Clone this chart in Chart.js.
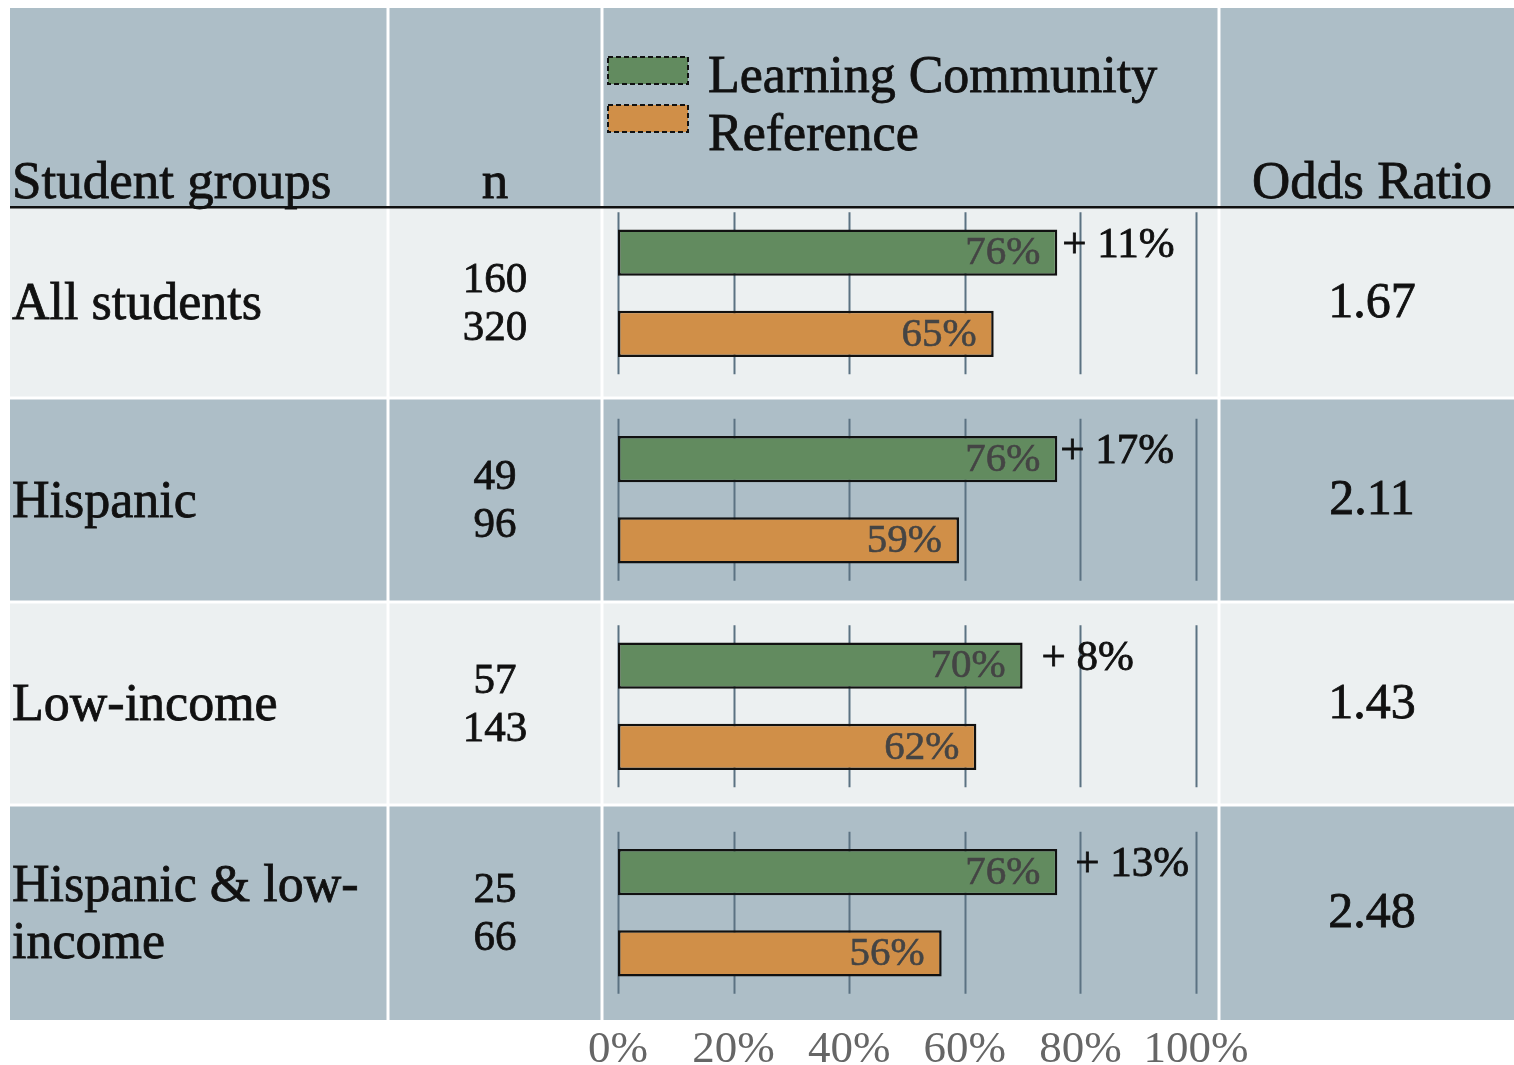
<!DOCTYPE html>
<html>
<head>
<meta charset="utf-8">
<script src="https://cdn.jsdelivr.net/npm/chart.js@4.4.1/dist/chart.umd.min.js"></script>
<style>
  html, body { margin: 0; padding: 0; background: #fff; }
  canvas { display: block; }
</style>
</head>
<body>
<canvas id="chart" width="1514" height="1065"></canvas>
<script>
// data
const groups = ['All students', 'Hispanic', 'Low-income', 'Hispanic & low-income'];
const groupLines = [['All students'], ['Hispanic'], ['Low-income'], ['Hispanic & low-', 'income']];
const lcRate = [76, 76, 70, 76];
const refRate = [65, 59, 62, 56];
const nLC = [160, 49, 57, 25];
const nRef = [320, 96, 143, 66];
const diffLabels = ['+ 11%', '+ 17%', '+ 8%', '+ 13%'];
const oddsRatio = ['1.67', '2.11', '1.43', '2.48'];
const xTicks = [0, 20, 40, 60, 80, 100];

// layout
const FONT = "'Liberation Serif', 'Times New Roman', serif";
const colX = [10, 388, 602, 1219, 1514];
const rowY = [8, 207, 398, 602, 805, 1020];
const diffShift = [5, 3, 19, 18];
const BG_DARK = '#adbec7';
const BG_LIGHT = '#ecf0f1';
const GREEN = '#628b5f';
const ORANGE = '#d08f48';

// fill + thin stroke so the serif looks a bit heavier
function text(ctx, str, x, y, weight = 0.8) {
    ctx.fillText(str, x, y);
    ctx.lineWidth = weight;
    ctx.strokeStyle = ctx.fillStyle;
    ctx.strokeText(str, x, y);
}

const tablePlugin = {
    id: 'table',
    beforeDraw(chart) {
        const { ctx } = chart;
        ctx.save();
        ctx.fillStyle = '#fff';
        ctx.fillRect(0, 0, chart.width, chart.height);

        // cells
        for (let r = 0; r < rowY.length - 1; r++) {
            ctx.fillStyle = (r % 2 === 0) ? BG_DARK : BG_LIGHT;
            for (let c = 0; c < colX.length - 1; c++) {
                const x0 = colX[c] + (c > 0 ? 1.5 : 0);
                const x1 = colX[c + 1] - (c < colX.length - 2 ? 1.5 : 0);
                const y0 = rowY[r] + (r > 1 ? 1.5 : 0);
                const y1 = rowY[r + 1] - (r > 0 && r < rowY.length - 2 ? 1.5 : 0);
                ctx.fillRect(x0, y0, x1 - x0, y1 - y0);
            }
        }

        // header rule
        ctx.fillStyle = '#111';
        ctx.fillRect(colX[0], rowY[1] - 1, colX[4] - colX[0], 2.5);

        // header text
        ctx.fillStyle = '#111';
        ctx.textBaseline = 'alphabetic';
        ctx.font = `53px ${FONT}`;
        ctx.textAlign = 'left';
        text(ctx, 'Student groups', 12, 198);
        ctx.textAlign = 'center';
        text(ctx, 'n', 495, 198);
        text(ctx, 'Odds Ratio', 1372, 198);

        // legend from the datasets
        chart.data.datasets.forEach((ds, i) => {
            const y = 57 + i * 48;
            ctx.fillStyle = ds.backgroundColor;
            ctx.fillRect(608, y, 80, 27);
            ctx.setLineDash([5, 3]);
            ctx.lineWidth = 2;
            ctx.strokeStyle = '#111';
            ctx.strokeRect(608, y, 80, 27);
            ctx.setLineDash([]);
            ctx.fillStyle = '#111';
            ctx.textAlign = 'left';
            ctx.font = `52px ${FONT}`;
            text(ctx, ds.label, 708, 92 + i * 58);
        });

        // row texts
        for (let i = 0; i < groups.length; i++) {
            const cy = (rowY[i + 1] + rowY[i + 2]) / 2;
            ctx.fillStyle = '#111';
            ctx.textBaseline = 'middle';
            ctx.textAlign = 'left';
            ctx.font = `52px ${FONT}`;
            const lines = groupLines[i];
            lines.forEach((t, k) => {
                text(ctx, t, 12, cy + 3 + (k - (lines.length - 1) / 2) * 57);
            });
            ctx.textAlign = 'center';
            ctx.font = `43px ${FONT}`;
            text(ctx, String(nLC[i]), 495, cy - 22);
            text(ctx, String(nRef[i]), 495, cy + 26);
            ctx.font = `50px ${FONT}`;
            text(ctx, oddsRatio[i], 1372, cy + 1);
        }
        ctx.restore();
    },
    beforeDatasetsDraw(chart) {
        const { ctx, scales: { x, y } } = chart;
        ctx.save();
        ctx.strokeStyle = '#5b7282';
        ctx.lineWidth = 2;
        for (let i = 0; i < groups.length; i++) {
            const cy = y.getPixelForValue(i);
            for (const t of xTicks) {
                const px = Math.round(x.getPixelForValue(t)) + 0.5;
                ctx.beginPath();
                ctx.moveTo(px, cy - 81);
                ctx.lineTo(px, cy + 81);
                ctx.stroke();
            }
        }
        ctx.restore();
    },
    afterDatasetsDraw(chart) {
        const { ctx } = chart;
        ctx.save();
        ctx.textBaseline = 'middle';
        chart.data.datasets.forEach((ds, d) => {
            const meta = chart.getDatasetMeta(d);
            meta.data.forEach((bar, i) => {
                ctx.fillStyle = '#444';
                ctx.textAlign = 'right';
                ctx.font = `41px ${FONT}`;
                text(ctx, ds.data[i] + '%', bar.x - 17, bar.y + 1, 0.6);
                if (d === 0) {
                    ctx.fillStyle = '#111';
                    ctx.textAlign = 'left';
                    ctx.font = `43px ${FONT}`;
                    text(ctx, diffLabels[i], bar.x + diffShift[i], bar.y - 7);
                }
            });
        });
        ctx.restore();
    }
};

const ctx = document.getElementById('chart').getContext('2d');
new Chart(ctx, {
    type: 'bar',
    data: {
        labels: groups,
        datasets: [
            {
                label: 'Learning Community',
                data: lcRate,
                backgroundColor: GREEN,
                borderColor: '#111',
                borderWidth: 2.5,
                borderSkipped: false
            },
            {
                label: 'Reference',
                data: refRate,
                backgroundColor: ORANGE,
                borderColor: '#111',
                borderWidth: 2.5,
                borderSkipped: false
            }
        ]
    },
    options: {
        indexAxis: 'y',
        responsive: false,
        animation: false,
        events: [],
        categoryPercentage: 0.786,
        barPercentage: 0.568,
        layout: { padding: { left: 618, right: 318, top: 190, bottom: 0 } },
        scales: {
            x: {
                min: 0,
                max: 100,
                grid: { display: false, drawTicks: false },
                border: { display: false },
                ticks: {
                    stepSize: 20,
                    color: '#666',
                    font: { family: FONT, size: 45 },
                    padding: 7,
                    callback: (v) => v + '%'
                },
                afterFit: (s) => { s.height = 49; s.paddingLeft = 0; s.paddingRight = 0; }
            },
            y: { display: false }
        },
        plugins: {
            legend: { display: false },
            tooltip: { enabled: false }
        }
    },
    plugins: [tablePlugin]
});
</script>
</body>
</html>
